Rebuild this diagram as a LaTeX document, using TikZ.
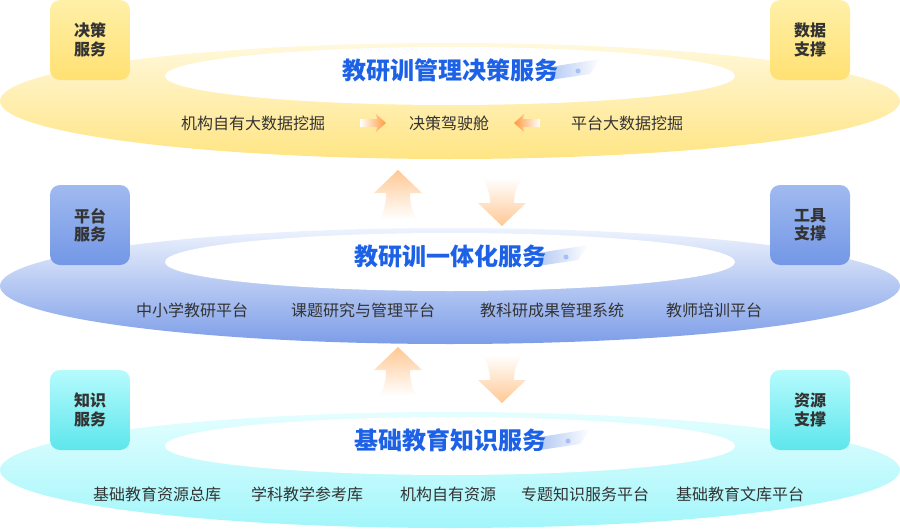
\documentclass[tikz,border=0pt]{standalone}
\usepackage{fontspec}
\newfontfamily\cjk{Noto Sans CJK SC}
\usetikzlibrary{shapes.geometric}
\definecolor{ylA}{HTML}{FFF8DC}
\definecolor{ylB}{HTML}{FFE583}
\definecolor{ybA}{HTML}{FFF0A8}
\definecolor{ybB}{HTML}{FFE072}
\definecolor{blA}{HTML}{EEF3FD}
\definecolor{blB}{HTML}{7C9DE8}
\definecolor{bbA}{HTML}{A0BAF0}
\definecolor{bbB}{HTML}{7397E6}
\definecolor{cyA}{HTML}{E4FEFF}
\definecolor{cyB}{HTML}{A2F6FA}
\definecolor{cbA}{HTML}{B6FBFD}
\definecolor{cbB}{HTML}{5DE6EC}
\definecolor{ttl}{HTML}{1D62E6}
\definecolor{ttlsh}{HTML}{A6C0F3}
\definecolor{txt}{HTML}{333333}
\definecolor{org}{HTML}{FF9A3C}
\definecolor{orl}{HTML}{FFC894}
\tikzset{
  sidebox/.style={minimum width=80pt,minimum height=80pt,rounded corners=10pt,align=center,
    font=\cjk\bfseries\fontsize{16}{18.5}\selectfont,text=txt,inner sep=0pt},
  ttlnode/.style={font=\cjk\bfseries\fontsize{24}{24}\selectfont,text=ttl,inner sep=0pt},
  item/.style={font=\cjk\fontsize{16}{16}\selectfont,text=txt,inner sep=0pt},
}
\begin{document}
\begin{tikzpicture}[x=1pt,y=-1pt]
\useasboundingbox (0,0) rectangle (900,530);
% ---------- bottom layer (cyan) ----------
\shade[top color=cyA,bottom color=cyB] (450,470) ellipse [x radius=450pt,y radius=58pt];
\fill[white] (450,446) ellipse [x radius=285pt,y radius=29pt];
% ---------- middle layer (blue) ----------
\shade[top color=blA,bottom color=blB] (450,286) ellipse [x radius=450pt,y radius=58pt];
\fill[white] (450,262) ellipse [x radius=285pt,y radius=29pt];
% ---------- top layer (yellow) ----------
\shade[top color=ylA,bottom color=ylB] (450,101) ellipse [x radius=450pt,y radius=58pt];
\fill[white] (450,76) ellipse [x radius=285pt,y radius=29pt];

% title streaks
\foreach \xx/\yy in {550/70,538/256,540/440}{
  \shade[left color=ttlsh,right color=white,opacity=0.85]
    (\xx,\yy-3) -- (\xx+50,\yy-11) -- (\xx+40,\yy+4) -- (\xx,\yy+10) -- cycle;
  \fill[ttlsh] (\xx+28,\yy+1) circle (2.5pt);
}

% titles
\node[ttlnode] (t1) at (450,70) {教研训管理决策服务};
\node[ttlnode] (t2) at (450,256) {教研训一体化服务};
\node[ttlnode] (t3) at (450,440) {基础教育知识服务};

% side boxes
\node[sidebox,top color=ybA,bottom color=ybB] (b1) at (90,40) {决策\\服务};
\node[sidebox,top color=ybA,bottom color=ybB] (b2) at (810,40) {数据\\支撑};
\node[sidebox,top color=bbA,bottom color=bbB] (b3) at (90,225) {平台\\服务};
\node[sidebox,top color=bbA,bottom color=bbB] (b4) at (810,225) {工具\\支撑};
\node[sidebox,top color=cbA,bottom color=cbB] (b5) at (90,410) {知识\\服务};
\node[sidebox,top color=cbA,bottom color=cbB] (b6) at (810,410) {资源\\支撑};

% top row items
\node[item] (a1) at (253,123) {机构自有大数据挖掘};
\node[item] (a2) at (449,123) {决策驾驶舱};
\node[item] (a3) at (627,123) {平台大数据挖掘};
\shade[left color=white,right color=org] (360,119) -- (377,119) -- (376,114) -- (386,123) -- (376,132) -- (377,127) -- (360,127) -- cycle;
\shade[left color=org,right color=white] (540,119) -- (523,119) -- (524,114) -- (514,123) -- (524,132) -- (523,127) -- (540,127) -- cycle;

% middle row items
\node[item] (m1) at (192,310) {中小学教研平台};
\node[item] (m2) at (363,310) {课题研究与管理平台};
\node[item] (m3) at (552,310) {教科研成果管理系统};
\node[item] (m4) at (714,310) {教师培训平台};

% bottom row items
\node[item] (k1) at (157,494) {基础教育资源总库};
\node[item] (k2) at (307,494) {学科教学参考库};
\node[item] (k3) at (448,494) {机构自有资源};
\node[item] (k4) at (585,494) {专题知识服务平台};
\node[item] (k5) at (740,494) {基础教育文库平台};

% vertical block arrows
\foreach \dy in {0,177}{
  \begin{scope}[yshift=-\dy pt]
  \shade[top color=orl,bottom color=white]
    (398,170) -- (422,193) -- (410,193) .. controls (410,205) and (413,212) .. (416,219)
    -- (380,219) .. controls (383,212) and (386,205) .. (386,193) -- (374,193) -- cycle;
  \shade[top color=white,bottom color=orl]
    (482,178) -- (523,178) .. controls (516,186) and (514,195) .. (514,203) -- (526,203)
    -- (502,226) -- (478,203) -- (490,203) .. controls (490,195) and (488,186) .. (482,178) -- cycle;
  \end{scope}
}
\end{tikzpicture}
\end{document}
